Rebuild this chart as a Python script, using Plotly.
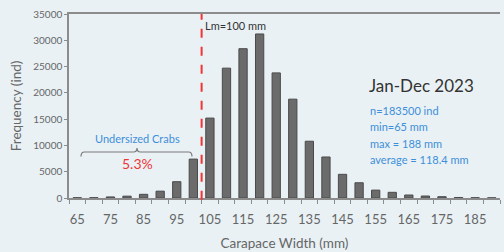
import plotly.graph_objects as go

sizes = [65, 70, 75, 80, 85, 90, 95, 100, 105, 110, 115, 120, 125, 130,
         135, 140, 145, 150, 155, 160, 165, 170, 175, 180, 185, 190]
freq = [50, 60, 200, 350, 700, 1300, 3100, 7400, 15200, 24700, 28400, 31200,
        23800, 18800, 10800, 7800, 4500, 2900, 1500, 1080, 570, 380, 250, 100, 50, 30]
tick_labels = [65, 75, 85, 95, 105, 115, 125, 135, 145, 155, 165, 175, 185]
lm_value = 100
stats_lines = ["n=183500 ind", "min=65 mm", "max = 188 mm", "average = 118.4 mm"]
undersized_pct = "5.3%"

FONT = "Lato"
BLUE = "#3d8fd9"
RED = "#ef3535"
AXIS = "#8c8c8c"

fig = go.Figure()
fig.add_trace(go.Bar(x=sizes, y=freq,
                     marker=dict(color="#6b6b6b", line=dict(color="#4a4a4a", width=1)),
                     showlegend=False))

step = sizes[1] - sizes[0]
boundaries = [s - step / 2 for s in sizes] + [sizes[-1] + step / 2]
lm_line_x = lm_value + step / 2

fig.update_layout(
    width=504, height=252,
    margin=dict(l=69, r=4, t=14, b=54, autoexpand=False),
    paper_bgcolor="#e9f1f5", plot_bgcolor="#e9f1f5",
    bargap=0.5,
    font=dict(family=FONT, color="#666666"),
    xaxis=dict(range=[boundaries[0], boundaries[-1]], automargin=False,
               tickvals=tick_labels, ticktext=[str(t) for t in tick_labels],
               ticks="", tickfont=dict(size=13, color="#666666"),
               ticklabelstandoff=9,
               showline=True, linecolor=AXIS, linewidth=1.5, mirror=True,
               showgrid=False, zeroline=False,
               minor=dict(tickvals=boundaries, ticks="outside", ticklen=4,
                          tickcolor=AXIS, showgrid=False),
               title=dict(text="Carapace Width (mm)", font=dict(size=13.5, color="#666666"),
                          standoff=12)),
    yaxis=dict(range=[0, 35000], dtick=5000, tickformat="d", automargin=False,
               ticks="outside", ticklen=3,
               tickcolor=AXIS, tickfont=dict(size=10, color="#666666"),
               showline=True, linecolor=AXIS, linewidth=1.5,
               showgrid=False, zeroline=False,
               title=dict(text="Frequency (ind)", font=dict(size=13.5, color="#666666"),
                          standoff=9)),
)

fig.add_shape(type="line", xref="x", yref="paper", x0=lm_line_x, x1=lm_line_x,
              y0=-0.01, y1=1, line=dict(color=RED, width=2, dash="dash"))

fig.add_annotation(xref="x", yref="paper", x=lm_line_x + 0.3, y=0.935,
                   xanchor="left", yanchor="middle", showarrow=False,
                   text="Lm=100 mm", font=dict(size=11, color="#333333"))

fig.add_annotation(xref="paper", yref="paper", x=0.691, y=0.614,
                   xanchor="left", yanchor="middle", showarrow=False,
                   text="Jan-Dec 2023", font=dict(size=17, color="#333333"))

for i, line in enumerate(stats_lines):
    fig.add_annotation(xref="paper", yref="paper", x=0.693, y=0.478 - i * 0.09,
                       xanchor="left", yanchor="middle", showarrow=False,
                       text=line, font=dict(size=11, color=BLUE))

fig.add_annotation(xref="paper", yref="paper", x=0.158, y=0.326,
                   xanchor="center", yanchor="middle", showarrow=False,
                   text="Undersized Crabs", font=dict(size=11, color=BLUE))
fig.add_annotation(xref="paper", yref="paper", x=0.158, y=0.19,
                   xanchor="center", yanchor="middle", showarrow=False,
                   text=undersized_pct, font=dict(size=14, color=RED))

x0, x1, xm = 0.0278, 0.2854, 0.1578
yl, ye, yt = 0.25, 0.225, 0.272
r = 0.008
path = (f"M {x0},{ye} Q {x0},{yl} {x0 + r},{yl} L {xm - r},{yl} "
        f"Q {xm},{yl} {xm},{yt} Q {xm},{yl} {xm + r},{yl} L {x1 - r},{yl} "
        f"Q {x1},{yl} {x1},{ye}")
fig.add_shape(type="path", xref="paper", yref="paper", path=path,
              line=dict(color="#7a7a7a", width=1.2))

fig.write_html("out.html", config={"displayModeBar": False},
               post_script="document.body.style.margin='0';document.body.style.background='#e9f1f5';")
